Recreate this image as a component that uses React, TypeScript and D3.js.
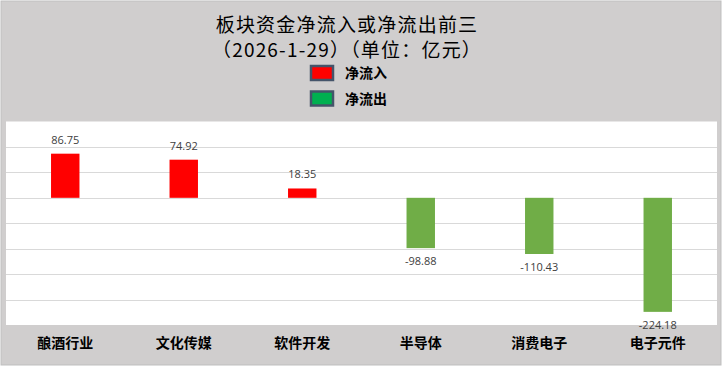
import * as d3 from "d3";
import { useEffect, useRef } from "react";

// data
const categories = ["酿酒行业", "文化传媒", "软件开发", "半导体", "消费电子", "电子元件"];
const values = [86.75, 74.92, 18.35, -98.88, -110.43, -224.18];
const gridTicks = [150, 100, 50, 0, -50, -100, -150, -200, -250];
const legendNames = ["净流入", "净流出"];
const titleLines = ["板块资金净流入或净流出前三", "（2026-1-29）（单位：亿元）"];

export default function App() {
  const svgRef = useRef<SVGSVGElement>(null);

  const width = 725;
  const height = 368;
  const plot = { left: 6, right: 717, top: 121.5, bottom: 325 };

  useEffect(() => {
    const svg = d3.select(svgRef.current);
    svg.selectAll("*").remove();

    //background
    svg
      .append("rect")
      .attr("x", 1)
      .attr("y", 1)
      .attr("width", 720)
      .attr("height", 364)
      .attr("fill", "#d0cece")
      .attr("stroke", "#bfbfbf");

    svg
      .append("rect")
      .attr("x", plot.left)
      .attr("y", plot.top)
      .attr("width", plot.right - plot.left)
      .attr("height", plot.bottom - plot.top)
      .attr("fill", "#ffffff");

    //scales
    const xScale = d3
      .scaleBand()
      .domain(categories)
      .range([plot.left, plot.right])
      .paddingInner(0.76)
      .paddingOuter(0.38);
    const yScale = d3.scaleLinear().domain([150, -250]).range([plot.top, plot.bottom]);

    //gridlines
    svg
      .append("g")
      .selectAll("line")
      .data(gridTicks.slice(1, -1))
      .enter()
      .append("line")
      .attr("x1", plot.left)
      .attr("x2", plot.right)
      .attr("y1", (d) => Math.round(yScale(d)) + 0.5)
      .attr("y2", (d) => Math.round(yScale(d)) + 0.5)
      .attr("stroke", "#d9d9d9")
      .attr("stroke-width", 1);

    //bars
    svg
      .append("g")
      .selectAll("rect")
      .data(values)
      .enter()
      .append("rect")
      .attr("x", (d, i) => xScale(categories[i])!)
      .attr("width", xScale.bandwidth())
      .attr("y", (d) => yScale(Math.max(0, d)))
      .attr("height", (d) => Math.abs(yScale(d) - yScale(0)))
      .attr("fill", (d) => (d >= 0 ? "#ff0000" : "#70ad47"));

    //value labels
    svg
      .append("g")
      .selectAll("text")
      .data(values)
      .enter()
      .append("text")
      .attr("x", (d, i) => xScale(categories[i])! + xScale.bandwidth() / 2)
      .attr("y", (d) => (d >= 0 ? yScale(d) - 10 : yScale(d) + 17))
      .attr("text-anchor", "middle")
      .attr("font-family", "'Open Sans', 'Liberation Sans', sans-serif")
      .attr("font-size", 11)
      .attr("fill", "#404040")
      .text((d) => d.toFixed(2));

    //category labels
    svg
      .append("g")
      .selectAll("text")
      .data(categories)
      .enter()
      .append("text")
      .attr("x", (d) => xScale(d)! + xScale.bandwidth() / 2)
      .attr("y", 348)
      .attr("text-anchor", "middle")
      .attr("font-family", "'Noto Sans CJK SC', sans-serif")
      .attr("font-weight", "bold")
      .attr("font-size", 14)
      .attr("fill", "#000000")
      .text((d) => d);

    //title
    svg
      .append("g")
      .selectAll("text")
      .data(titleLines)
      .enter()
      .append("text")
      .attr("x", 347)
      .attr("y", (d, i) => 32 + i * 25)
      .attr("text-anchor", "middle")
      .attr("font-family", "'Noto Sans CJK SC', sans-serif")
      .attr("font-size", 19)
      .attr("letter-spacing", 1.2)
      .attr("fill", "#000000")
      .text((d) => d);

    //legend
    const legendColors = ["#ff0000", "#00b050"];
    const legend = svg
      .append("g")
      .selectAll("g")
      .data(legendNames)
      .enter()
      .append("g")
      .attr("transform", (d, i) => `translate(310,${65 + i * 25.5})`);
    legend
      .append("rect")
      .attr("x", 1)
      .attr("y", 1)
      .attr("width", 22)
      .attr("height", 14)
      .attr("fill", (d, i) => legendColors[i])
      .attr("stroke", "#44546a")
      .attr("stroke-width", 2.5);
    legend
      .append("text")
      .attr("x", 35)
      .attr("y", 13)
      .attr("font-family", "'Noto Sans CJK SC', sans-serif")
      .attr("font-weight", "bold")
      .attr("font-size", 14)
      .attr("fill", "#000000")
      .text((d) => d);
  }, []);

  return (
    <svg
      ref={svgRef}
      width={width}
      height={height}
      style={{ position: "absolute", left: 0, top: 0 }}
    ></svg>
  );
}
